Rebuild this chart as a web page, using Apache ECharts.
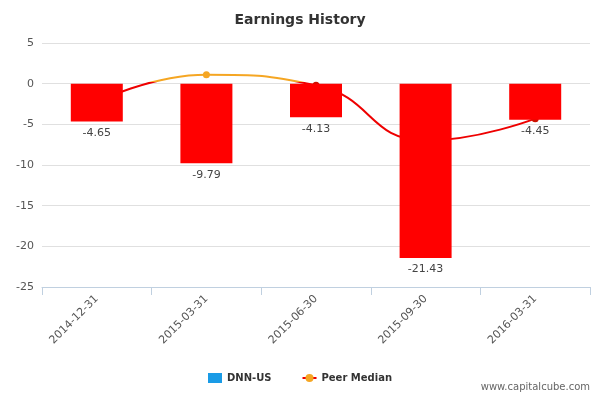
<!DOCTYPE html>
<html><head><meta charset="utf-8">
<script src="https://cdn.jsdelivr.net/npm/echarts@6/dist/echarts.min.js"></script>
<style>html,body{margin:0;padding:0;background:#fff}#c{width:600px;height:400px}</style>
</head><body><div id="c"></div>
<script>
const categories = ['2014-12-31','2015-03-31','2015-06-30','2015-09-30','2016-03-31'];
const dnnValues = [-4.65,-9.79,-4.13,-21.43,-4.45];
const peerMedian = [-2.3,1.1,-0.2,-7.0,-4.3];
const yTicks = {min:-25,max:5,interval:5};
const maxP = Math.max(...peerMedian), minP = Math.min(...peerMedian);
const zeroFrac = maxP/(maxP-minP);
const chart = echarts.init(document.getElementById('c'));
chart.setOption({
  animation:false,
  title:{text:'Earnings History',left:'center',top:8,textStyle:{fontFamily:'DejaVu Sans',fontSize:14,fontWeight:'bold',color:'#333'}},
  grid:{left:42,right:10,top:43,bottom:113},
  legend:{bottom:12,left:'center',itemGap:30,itemWidth:14,itemHeight:10,textStyle:{fontFamily:'DejaVu Sans',fontSize:10,fontWeight:'bold',color:'#333'},
    data:[{name:'DNN-US',icon:'rect',itemStyle:{color:'#1a9be6'}},{name:'Peer Median',itemStyle:{color:'#f5a623'}}]},
  graphic:[{type:'text',right:10,bottom:8,style:{text:'www.capitalcube.com',fill:'#666',font:'10px DejaVu Sans'}}],
  xAxis:{type:'category',data:categories,boundaryGap:true,
    axisLine:{onZero:false,lineStyle:{color:'#c0d0e0'}},axisTick:{show:true,length:8,lineStyle:{color:'#c0d0e0'}},
    axisLabel:{rotate:45,color:'#555',fontFamily:'DejaVu Sans',fontSize:11,margin:10}},
  yAxis:{type:'value',min:yTicks.min,max:yTicks.max,interval:yTicks.interval,
    axisLine:{show:false},axisTick:{show:false},
    splitLine:{lineStyle:{color:'#e0e0e0'}},
    axisLabel:{color:'#555',fontFamily:'DejaVu Sans',fontSize:11}},
  series:[
    {name:'DNN-US',type:'bar',data:dnnValues,barWidth:52,z:3,itemStyle:{color:'#ff0000'},
      label:{show:true,position:'bottom',distance:6,color:'#444',fontFamily:'DejaVu Sans',fontSize:11,formatter:p=>p.value.toFixed(2)}},
    {name:'Peer Median',type:'line',smooth:true,z:2,symbol:'circle',symbolSize:7,
      data:peerMedian.map(v=>({value:v,itemStyle:{color:v>=0?'#f5a623':'#cc1100'}})),
      lineStyle:{width:2,color:new echarts.graphic.LinearGradient(0,0,0,1,[
        {offset:0,color:'#f5a623'},{offset:zeroFrac,color:'#f5a623'},
        {offset:zeroFrac,color:'#ee0000'},{offset:1,color:'#ee0000'}])},
      itemStyle:{color:'#f5a623'}}
  ]
});
</script></body></html>
